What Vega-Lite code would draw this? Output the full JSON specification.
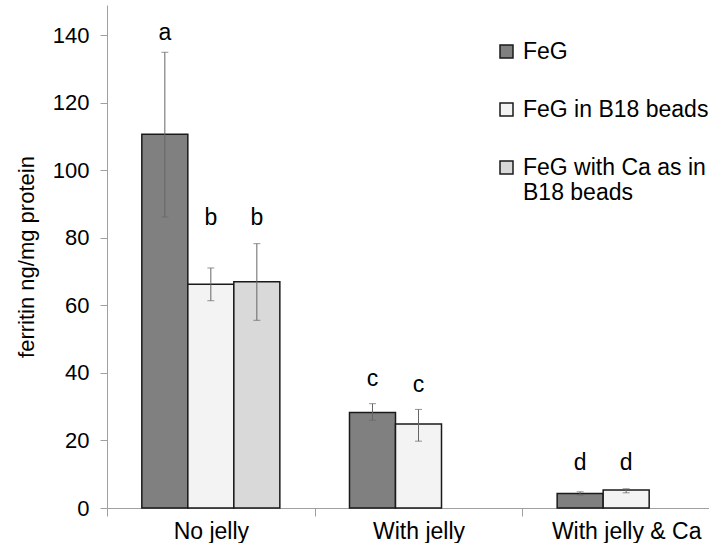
{
  "$schema": "https://vega.github.io/schema/vega-lite/v6.json",
  "width": 623,
  "height": 503,
  "padding": {"left": 15, "top": 5, "right": 0, "bottom": 0},
  "autosize": {"type": "pad"},
  "config": {"view": {"stroke": null}, "font": "Liberation Sans", "background": "#ffffff"},
  "data": {"values": [
    {"cond": "No jelly", "series": "FeG", "value": 110.7, "lo": 86.2, "hi": 135.0, "letter": "a", "letter_at": 140.6},
    {"cond": "No jelly", "series": "FeG in B18 beads", "value": 66.3, "lo": 61.4, "hi": 71.1, "letter": "b", "letter_at": 85.8},
    {"cond": "No jelly", "series": "FeG with Ca as in B18 beads", "value": 67.0, "lo": 55.6, "hi": 78.3, "letter": "b", "letter_at": 85.8},
    {"cond": "With jelly", "series": "FeG", "value": 28.3, "lo": 26.0, "hi": 30.9, "letter": "c", "letter_at": 38.2},
    {"cond": "With jelly", "series": "FeG in B18 beads", "value": 24.9, "lo": 19.8, "hi": 29.2, "letter": "c", "letter_at": 36.4},
    {"cond": "With jelly & Ca", "series": "FeG", "value": 4.3, "lo": 3.8, "hi": 4.8, "letter": "d", "letter_at": 13.3},
    {"cond": "With jelly & Ca", "series": "FeG in B18 beads", "value": 5.3, "lo": 4.5, "hi": 5.7, "letter": "d", "letter_at": 13.3}
  ]},
  "encoding": {
    "x": {
      "field": "cond", "type": "nominal",
      "sort": ["No jelly", "With jelly", "With jelly & Ca"],
      "scale": {"paddingInner": 0, "paddingOuter": 0},
      "axis": {
        "title": null, "tickBand": "extent", "tickSize": 8, "tickColor": "#a0a0a0",
        "domainColor": "#a0a0a0", "labelFontSize": 23, "labelColor": "#000000",
        "labelPadding": 4, "labelAngle": 0, "labelLimit": 0
      }
    },
    "xOffset": {
      "field": "series", "type": "nominal",
      "sort": ["FeG", "FeG in B18 beads", "FeG with Ca as in B18 beads"],
      "scale": {"paddingInner": 0, "paddingOuter": 0.757}
    }
  },
  "layer": [
    {
      "mark": {"type": "bar", "stroke": "#1a1a1a", "strokeWidth": 1.5},
      "encoding": {
        "y": {
          "field": "value", "type": "quantitative",
          "scale": {"domain": [0, 149], "nice": false},
          "axis": {
            "title": "ferritin ng/mg protein", "values": [0, 20, 40, 60, 80, 100, 120, 140],
            "grid": false, "tickSize": 7, "tickColor": "#a0a0a0", "domainColor": "#a0a0a0",
            "labelFontSize": 22, "labelColor": "#000000", "labelPadding": 11,
            "titleFontSize": 22, "titleFontWeight": "normal", "titleColor": "#000000", "titlePadding": 14
          }
        },
        "color": {
          "field": "series", "type": "nominal",
          "scale": {"domain": ["FeG", "FeG in B18 beads", "FeG with Ca as in B18 beads"], "range": ["#808080", "#f3f3f3", "#d9d9d9"]},
          "legend": {
            "orient": "none", "legendX": 388, "legendY": 35, "title": null,
            "symbolType": "square", "symbolSize": 169, "symbolStrokeColor": "#1a1a1a", "symbolStrokeWidth": 1.5,
            "symbolOpacity": 1,
            "labelFontSize": 23, "labelColor": "#000000", "rowPadding": 34, "labelOffset": 5, "labelLimit": 0,
            "labelExpr": "datum.value == 'FeG with Ca as in B18 beads' ? ['FeG with Ca as in', 'B18 beads'] : datum.label"
          }
        }
      }
    },
    {
      "mark": {"type": "rule", "color": "#666666", "strokeWidth": 1},
      "encoding": {
        "y": {"field": "lo", "type": "quantitative", "title": "ferritin ng/mg protein"},
        "y2": {"field": "hi"}
      }
    },
    {
      "mark": {"type": "tick", "color": "#666666", "thickness": 1, "size": 7},
      "encoding": {"y": {"field": "lo", "type": "quantitative", "title": "ferritin ng/mg protein"}}
    },
    {
      "mark": {"type": "tick", "color": "#666666", "thickness": 1, "size": 7},
      "encoding": {"y": {"field": "hi", "type": "quantitative", "title": "ferritin ng/mg protein"}}
    },
    {
      "mark": {"type": "text", "fontSize": 23, "baseline": "middle", "color": "#000000"},
      "encoding": {
        "y": {"field": "letter_at", "type": "quantitative", "title": "ferritin ng/mg protein"},
        "text": {"field": "letter"}
      }
    }
  ]
}
